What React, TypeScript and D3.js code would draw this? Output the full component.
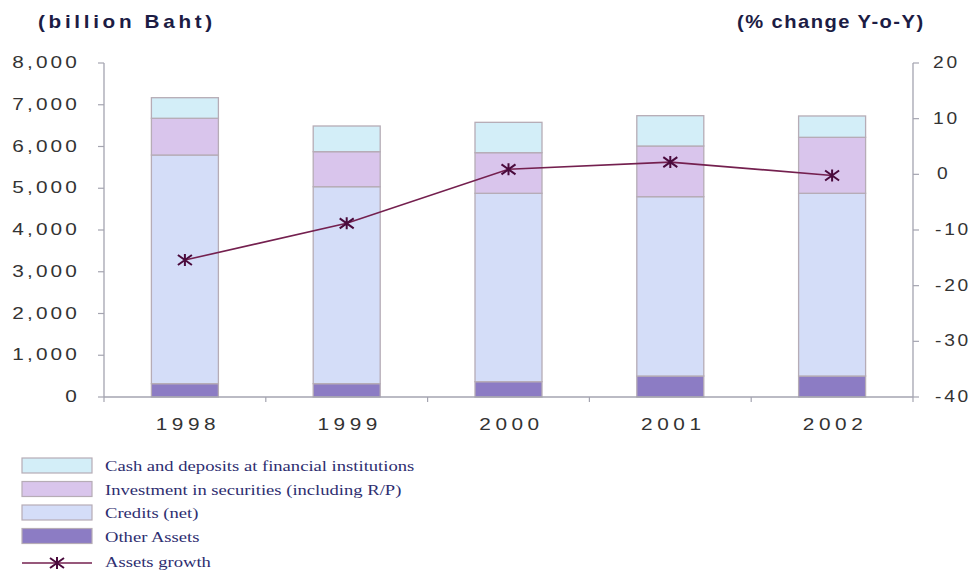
import React from "react";
import * as d3 from "d3";

const years = ["1998", "1999", "2000", "2001", "2002"];
const otherAssets = [320, 320, 367, 503, 503];
const credits = [5476, 4717, 4512, 4295, 4376];
const investment = [880, 839, 973, 1214, 1341];
const cash = [493, 615, 727, 726, 511];
const growth = [-15.4, -8.8, 0.9, 2.2, -0.2];
const leftTicks = [0, 1000, 2000, 3000, 4000, 5000, 6000, 7000, 8000];
const rightTicks = [-40, -30, -20, -10, 0, 10, 20];

const seriesKeys = ["other", "credits", "investment", "cash"];
const seriesColors: Record<string, string> = {
  other: "#8c7cc4",
  credits: "#d4ddf8",
  investment: "#d9c5ec",
  cash: "#d3eef8",
};
const legendItems = [
  { key: "cash", label: "Cash and deposits at financial institutions" },
  { key: "investment", label: "Investment in securities (including R/P)" },
  { key: "credits", label: "Credits (net)" },
  { key: "other", label: "Other Assets" },
];

const W = 973;
const H = 570;
const M = { left: 104, right: 913, top: 63, bottom: 397 };
const SANS = "'Liberation Sans', Arial, sans-serif";
const SERIF = "'Liberation Serif', 'Times New Roman', serif";

function SText(props: any) {
  const { x, y, anchor = "start", size = 16, weight = "normal", ls = 0, sx = 1.3, fill = "#333", children, family = SANS } = props;
  return (
    <text
      transform={`translate(${x},${y}) scale(${sx},1)`}
      textAnchor={anchor}
      fontSize={size}
      fontWeight={weight}
      letterSpacing={ls}
      fill={fill}
      fontFamily={family}
    >
      {children}
    </text>
  );
}

function Star({ x, y }: { x: number; y: number }) {
  return (
    <path
      transform={`translate(${x},${y})`}
      d="M-7,-5L7,5M-7,5L7,-5M0,-6L0,6"
      stroke="#4a0a3c"
      strokeWidth={2}
      fill="none"
    />
  );
}

export default function App() {
  const x = d3.scaleBand<string>().domain(years).range([M.left, M.right]).paddingInner(0).paddingOuter(0);
  const barW = 67;
  const yL = d3.scaleLinear().domain([0, 8000]).range([M.bottom, M.top]);
  const yR = d3.scaleLinear().domain([-40, 20]).range([M.bottom, M.top]);

  const table = years.map((yr, i) => ({
    year: yr,
    other: otherAssets[i],
    credits: credits[i],
    investment: investment[i],
    cash: cash[i],
  }));
  const stacked = d3.stack<any>().keys(seriesKeys)(table);

  const cx = (yr: string) => (x(yr) as number) + x.bandwidth() / 2;
  const line = d3
    .line<number>()
    .x((_, i) => cx(years[i]))
    .y((d) => yR(d));

  const axisColor = "#a4a4b0";
  const boundaries = d3.range(years.length + 1).map((i) => M.left + i * x.bandwidth());

  return (
    <svg width={W} height={H} style={{ position: "absolute", left: 0, top: 0, background: "#fff" }}>
      <rect x={0} y={0} width={W} height={H} fill="#ffffff" />
      {/* titles */}
      <SText x={38} y={28} size={18} weight="bold" ls={3.2} sx={1.15} fill="#1c1c44">
        (billion Baht)
      </SText>
      <SText x={737} y={28} size={18} weight="bold" ls={1.3} sx={1.12} fill="#1c1c44">
        (% change Y-o-Y)
      </SText>

      {/* bars */}
      {stacked.map((s) => (
        <g key={s.key}>
          {s.map((d, i) => (
            <rect
              key={i}
              x={cx(years[i]) - barW / 2}
              y={yL(d[1])}
              width={barW}
              height={yL(d[0]) - yL(d[1])}
              fill={seriesColors[s.key]}
              stroke="#b6acb6"
              strokeWidth={1.3}
            />
          ))}
        </g>
      ))}

      {/* axes */}
      <line x1={M.left} x2={M.left} y1={M.top} y2={M.bottom} stroke={axisColor} strokeWidth={1.3} />
      <line x1={M.right} x2={M.right} y1={M.top} y2={M.bottom} stroke={axisColor} strokeWidth={1.3} />
      <line x1={M.left} x2={M.right} y1={M.bottom} y2={M.bottom} stroke={axisColor} strokeWidth={1.3} />
      {leftTicks.map((t) => (
        <g key={"l" + t}>
          <line x1={M.left - 6} x2={M.left} y1={yL(t)} y2={yL(t)} stroke={axisColor} strokeWidth={1.2} />
          <SText x={80} y={yL(t) + 5} anchor="end" size={16} ls={2.4} sx={1.3} fill="#333">
            {d3.format(",")(t)}
          </SText>
        </g>
      ))}
      {rightTicks.map((t) => (
        <g key={"r" + t}>
          <line x1={M.right} x2={M.right + 6} y1={yR(t)} y2={yR(t)} stroke={axisColor} strokeWidth={1.2} />
          <SText x={t === 0 ? 937 : t < 0 ? 935 : 933} y={yR(t) + 5} anchor="start" size={16} ls={2.3} sx={1.2} fill="#333">
            {String(t)}
          </SText>
        </g>
      ))}
      {boundaries.map((b, i) => (
        <line key={"b" + i} x1={b} x2={b} y1={M.bottom} y2={M.bottom + 5} stroke={axisColor} strokeWidth={1.2} />
      ))}
      {years.map((yr) => (
        <SText key={yr} x={cx(yr) + 3} y={430} anchor="middle" size={16} ls={3.5} sx={1.3} fill="#333">
          {yr}
        </SText>
      ))}

      {/* growth line */}
      <path d={line(growth) || ""} fill="none" stroke="#74204f" strokeWidth={1.6} />
      {growth.map((g, i) => (
        <Star key={i} x={cx(years[i])} y={yR(g)} />
      ))}

      {/* legend */}
      {legendItems.map((it, i) => {
        const ly = 458 + i * 23.5;
        return (
          <g key={it.key}>
            <rect x={22} y={ly} width={70} height={15} fill={seriesColors[it.key]} stroke="#b6acb6" strokeWidth={1.2} />
            <SText x={105} y={ly + 13} family={SERIF} size={15.5} sx={1.2} fill="#2e2e70">
              {it.label}
            </SText>
          </g>
        );
      })}
      <line x1={22} x2={92} y1={563} y2={563} stroke="#74204f" strokeWidth={1.6} />
      <Star x={57} y={563} />
      <SText x={105} y={567} family={SERIF} size={15.5} sx={1.2} fill="#2e2e70">
        Assets growth
      </SText>
    </svg>
  );
}
